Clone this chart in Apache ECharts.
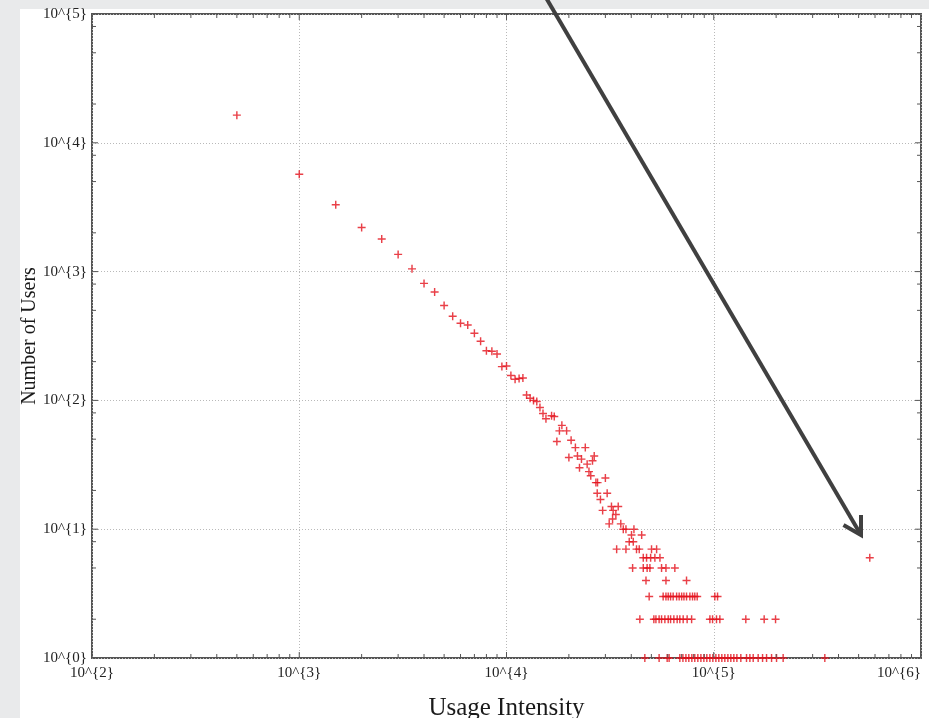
<!DOCTYPE html>
<html>
<head>
<meta charset="utf-8">
<title>Usage Intensity</title>
<script src="https://cdn.jsdelivr.net/npm/echarts@6.0.0/dist/echarts.min.js"></script>
<style>
  html, body { margin: 0; padding: 0; background: #e9eaeb; }
  #paper { position: absolute; left: 20px; top: 9px; right: 0; bottom: 0; background: #fff; }
  #chart { position: absolute; left: 0; top: 0; width: 929px; height: 718px; }
</style>
</head>
<body>
<div id="paper"></div>
<div id="chart"></div>
<script>
// one point per usage bin, counts above 8 users
const upperIntensity = [
  500, 1000, 1500, 2000, 2500, 3000, 3500, 4000, 4500, 5000,
  5500, 6000, 6500, 7000, 7500, 8000, 8500, 9000, 9500, 10000,
  10500, 11000, 11500, 12000, 12500, 13000, 13500, 14000, 14500, 15000,
  15500, 16500, 17000, 17500, 18000, 18500, 19500, 20000, 20500, 21500,
  22000, 22500, 23000, 24000, 24500, 25000, 25500, 26000, 26500, 27000,
  27500, 30000,
  27400, 30600, 28400, 32100, 34600, 29100, 32700, 33700, 31300, 32500,
  35600, 36600, 37700, 41200, 40100, 44900, 39100, 40900
];
const upperUsers = [
  16400, 5700, 3300, 2200, 1790, 1360, 1050, 810, 695, 545,
  450, 397, 385, 332, 288, 243, 241, 229, 183, 185,
  156, 146, 148, 149, 110, 104, 100, 98, 88, 79,
  72, 76, 75, 48, 58, 64, 58, 36, 49, 43,
  37, 30, 35, 43, 32, 28, 26, 34, 37, 23,
  23, 25,
  19, 19, 17, 15, 15, 14, 14, 13, 11, 12,
  11, 10, 10, 10, 9, 9, 8, 8
];

// small counts: each row holds the intensities having that many users
const smallCounts = [7, 6, 5, 4, 3, 2, 1];
const intensityAtCount = [
  [34000, 37700, 42400, 43700, 50100, 53000],
  [45700, 47400, 49600, 52000, 55000],
  [40600, 45700, 47700, 49200, 56000, 58800, 64900],
  [47100, 58800, 73900],
  [48800, 57000, 58800, 60300, 61900, 63700, 66200, 68100, 70000, 71800,
   73900, 76700, 79000, 81000, 83200, 101200, 104300],
  [44000, 51400, 52600, 54500, 56000, 58100, 60300, 61900, 64200, 66600,
   68600, 71200, 74400, 78200, 95800, 98700, 103100, 107000, 142800, 175100, 198700],
  [46500, 54500, 59600, 60900, 68600, 71000, 73400, 75800, 78400, 81000,
   83800, 86700, 89600, 92600, 95800, 99000, 102400, 105800, 109400, 113100,
   117000, 120900, 125000, 129300, 135100, 143900, 149400, 155000, 163800, 172000,
   179800, 190100, 200900, 216200, 343500]
];

// the heavy user the arrow points at
const outlierIntensity = [566000];
const outlierUsers = [6];

// axis ticks
const xDecades = [100, 1000, 10000, 100000, 1000000];
const yDecades = [1, 10, 100, 1000, 10000, 100000];
const xMinorMults = [2, 3, 4, 5, 6, 7, 8, 9];
const yMinorMults = [2, 5, 8];

let points = upperIntensity.map((x, i) => [x, upperUsers[i]]);
smallCounts.forEach((c, r) => {
  intensityAtCount[r].forEach(x => points.push([x, c]));
});
outlierIntensity.forEach((x, i) => points.push([x, outlierUsers[i]]));

const chart = echarts.init(document.getElementById('chart'), null, { renderer: 'canvas' });

const powLabel = v => '10^{' + Math.round(Math.log10(v)) + '}';
const serif = 'Liberation Serif, Times New Roman, serif';

chart.setOption({
  animation: false,
  backgroundColor: 'transparent',
  grid: {
    left: 92, right: 8, top: 14, bottom: 60,
    outerBoundsMode: 'none',
    show: true,
    borderColor: '#555',
    borderWidth: 2,
    backgroundColor: 'transparent'
  },
  xAxis: {
    type: 'log',
    logBase: 10,
    min: 100,
    max: 1000000,
    name: 'Usage Intensity',
    nameLocation: 'middle',
    nameGap: 38,
    nameTextStyle: { fontFamily: serif, fontSize: 25, color: '#1a1a1a' },
    axisLine: { show: false },
    axisTick: { show: false },
    axisLabel: {
      formatter: powLabel,
      fontFamily: serif, fontSize: 15, color: '#222',
      margin: 8,
      alignMaxLabel: 'right'
    },
    splitLine: { show: true, lineStyle: { color: '#b9b9b9', type: [1, 2], width: 1 } }
  },
  yAxis: {
    type: 'log',
    logBase: 10,
    min: 1,
    max: 100000,
    name: 'Number of Users',
    nameLocation: 'middle',
    nameGap: 52,
    nameMoveOverlap: false,
    nameTextStyle: { fontFamily: serif, fontSize: 20, color: '#1a1a1a' },
    axisLine: { show: false },
    axisTick: { show: false },
    axisLabel: {
      formatter: powLabel,
      fontFamily: serif, fontSize: 15, color: '#222',
      margin: 5
    },
    splitLine: { show: true, lineStyle: { color: '#b9b9b9', type: [1, 2], width: 1 } }
  },
  series: [{
    type: 'scatter',
    data: points,
    clip: false,
    symbol: 'path://M4.1,0H5.9V4.1H10V5.9H5.9V10H4.1V5.9H0V4.1H4.1Z',
    symbolSize: 8,
    itemStyle: { color: '#e3101a' },
    z: 5
  }]
});

// ticks on all four sides, placed through the axes' own scales
const [gLeft, gBottom] = chart.convertToPixel({ gridIndex: 0 }, [100, 1]);
const [gRight, gTop] = chart.convertToPixel({ gridIndex: 0 }, [1000000, 100000]);
const ticks = [];
const tick = (x1, y1, x2, y2) => ticks.push({
  type: 'line', silent: true, z: 10,
  shape: { x1, y1, x2, y2 },
  style: { stroke: '#555', lineWidth: 1 }
});

xDecades.forEach((d, i) => {
  const vals = [[d, 6]];
  if (i < xDecades.length - 1) xMinorMults.forEach(m => vals.push([d * m, 4]));
  vals.forEach(([v, len]) => {
    const x = chart.convertToPixel({ gridIndex: 0 }, [v, 1])[0];
    tick(x, gBottom, x, gBottom - len);
    tick(x, gTop, x, gTop + len);
  });
});
yDecades.forEach((d, i) => {
  const vals = [[d, 6]];
  if (i < yDecades.length - 1) yMinorMults.forEach(m => vals.push([d * m, 4]));
  vals.forEach(([v, len]) => {
    const y = chart.convertToPixel({ gridIndex: 0 }, [100, v])[1];
    tick(gLeft, y, gLeft + len, y);
    tick(gRight, y, gRight - len, y);
  });
});

// annotation arrow from the top of the figure to the heavy user
const tipX = 861, tipY = 535;
const arrow = [
  {
    type: 'line', silent: true, z: 20,
    shape: { x1: 545, y1: -4, x2: tipX, y2: tipY },
    style: { stroke: '#404040', lineWidth: 4 }
  },
  {
    type: 'polyline', silent: true, z: 20,
    shape: { points: [[tipX - 17.5, tipY - 10], [tipX, tipY], [tipX, tipY - 20]] },
    style: { stroke: '#404040', lineWidth: 4, fill: null, lineJoin: 'miter' }
  }
];

chart.setOption({ graphic: ticks.concat(arrow) });
</script>
</body>
</html>
